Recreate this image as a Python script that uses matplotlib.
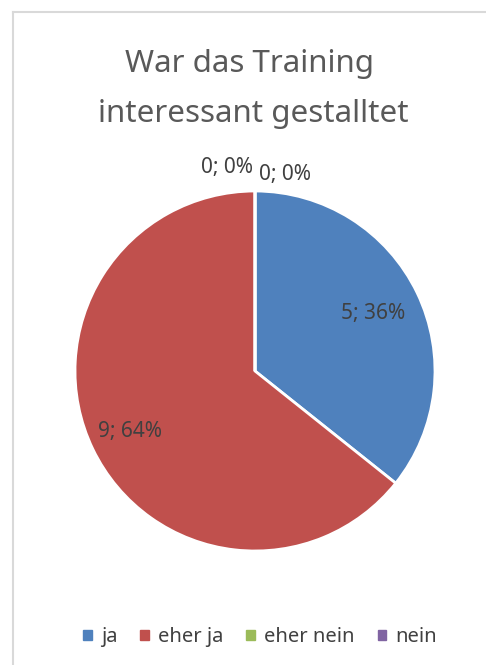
import matplotlib
matplotlib.use("Agg")
import matplotlib.pyplot as plt
from matplotlib.lines import Line2D
import numpy as np

categories = ["ja", "eher ja", "eher nein", "nein"]
values = [5, 9, 0, 0]
colors = ["#4F81BD", "#C0504D", "#9BBB59", "#8064A2"]
title_lines = ["War das Training", "interessant gestalltet"]

plt.rcParams['font.family'] = ['Noto Sans', 'DejaVu Sans']
W, H = 486, 665
fig = plt.figure(figsize=(W/100, H/100), dpi=100)

# border
fig.add_artist(Line2D([13/W, 13/W], [0, 1-12/H], color="#D9D9D9", lw=1.5, transform=fig.transFigure))
fig.add_artist(Line2D([13/W, 1], [1-12/H, 1-12/H], color="#D9D9D9", lw=1.5, transform=fig.transFigure))

cx, cy, r = 255, 371, 180
ax = fig.add_axes([(cx-r)/W, (H-cy-r)/H, 2*r/W, 2*r/H])
ax.set_xlim(-1, 1); ax.set_ylim(-1, 1)
ax.set_aspect('equal'); ax.axis('off')

wedges, _ = ax.pie(values, colors=colors, startangle=90, counterclock=False, radius=1,
                   wedgeprops=dict(edgecolor="white", linewidth=2))
ax.set_xlim(-1, 1); ax.set_ylim(-1, 1)

total = sum(values)
cum = 0
label_r = [0.73, 0.77]
zero_pos = [(-0.156, 1.128), (0.167, 1.089)]
zi = 0
for i, v in enumerate(values):
    start = 90 - cum / total * 360
    mid = start - v / total * 180
    cum += v
    txt = f"{v}; {round(100*v/total)}%"
    a = np.deg2rad(mid)
    if v > 0:
        rr = label_r[i]
        ax.text(rr*np.cos(a), rr*np.sin(a), txt, ha='center', va='center', fontsize=15, color="#404040")
    else:
        px, py = zero_pos[zi]; zi += 1
        ax.text(np.cos(a)+px, py, txt, ha='center', va='center', fontsize=15, color="#404040", clip_on=False)

fig.text(249/W, 1-72/H, title_lines[0], ha='center', va='baseline', fontsize=22.5, color="#595959")
fig.text(253/W, 1-122/H, title_lines[1], ha='center', va='baseline', fontsize=22.5, color="#595959")

handles = [plt.Rectangle((0, 0), 1, 1, color=c) for c in colors]
fig.legend(handles, categories, loc='center', bbox_to_anchor=(260/W, 1-637/H), ncol=4, frameon=False,
           fontsize=14.5, handlelength=0.42, handleheight=0.42, handletextpad=0.45, columnspacing=1.15,
           labelcolor="#404040", borderaxespad=0, borderpad=0)

fig.savefig("out.png", dpi=100)
